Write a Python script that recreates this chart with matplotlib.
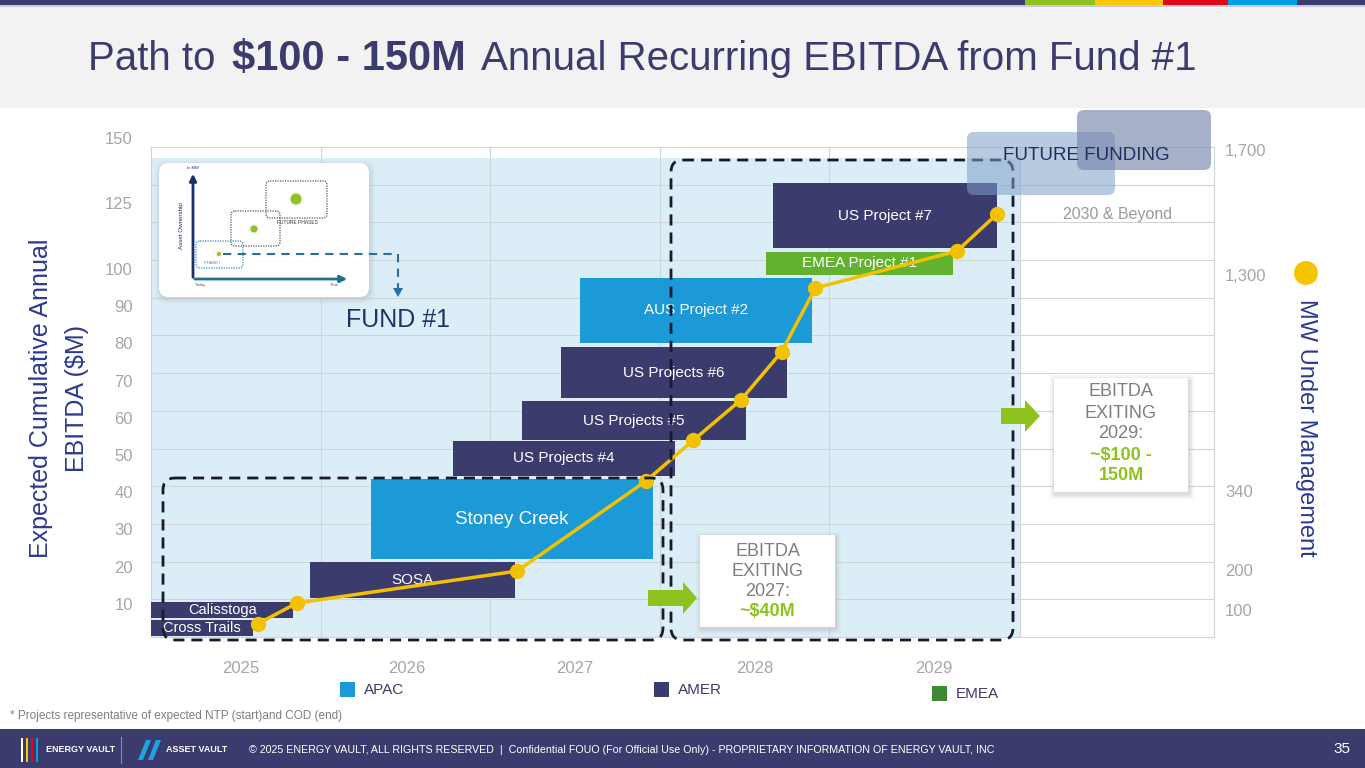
#Path to $100-150M EBITDA slide

import numpy as np
import matplotlib
matplotlib.use('Agg')
import matplotlib.pyplot as plt
from matplotlib.patches import Rectangle, FancyBboxPatch, Polygon, Circle

plt.rcParams['font.family'] = ['Liberation Sans', 'DejaVu Sans']

#project bars (NTP -> COD, in years) and their band on the EBITDA axis ($M)
projects = ['Cross Trails', 'Calisstoga', 'SOSA', 'Stoney Creek', 'US Projects #4',
            'US Projects #5', 'US Projects #6', 'AUS Project #2', 'EMEA Project #1', 'US Project #7']
regions = ['AMER', 'AMER', 'AMER', 'APAC', 'AMER', 'AMER', 'AMER', 'APAC', 'EMEA', 'AMER']
start = [2025.0, 2025.0, 2025.94, 2026.30, 2026.78, 2027.19, 2027.42, 2027.53, 2028.63, 2028.67]
end = [2025.60, 2025.84, 2027.15, 2027.96, 2028.09, 2028.51, 2028.75, 2028.90, 2029.65, 2029.88]
bar_lo = [1.3, 6.2, 11.6, 22.0, 44.4, 54.0, 65.3, 80.1, 98.4, 107.9]
bar_hi = [5.6, 10.5, 21.2, 43.5, 53.8, 64.5, 79.0, 97.6, 106.5, 132.7]

#cumulative EBITDA milestones
pt_x = [2025.63, 2025.86, 2027.16, 2027.92, 2028.20, 2028.48, 2028.72, 2028.92, 2029.67, 2029.88]
pt_y = [4.6, 10.2, 18.8, 43.0, 54.0, 64.8, 77.7, 94.9, 106.8, 120.9]

#axis labels
ebitda_ticks = [10, 20, 30, 40, 50, 60, 70, 80, 90, 100, 125, 150]
year_labels = ['2025', '2026', '2027', '2028', '2029']
year_pos = [2025.53, 2026.51, 2027.50, 2028.56, 2029.55]
mw_labels = ['100', '200', '340', '1,300', '1,700']
mw_pos = [8.3, 19.1, 40.3, 98.4, 145.4]

region_colors = {'APAC': '#1b9ad7', 'AMER': '#3c3b6e', 'EMEA': '#62b22f'}
navy = '#3c3b6e'
lbl_blue = '#2b3990'
gray = '#a6a6a6'
green = '#8dc21f'

#uneven axes used on the slide
yv = [-100, 0, 100, 125, 150, 400]
ys = [-100, 0, 100, 117.7, 135.2, 310.2]
def fwd_y(v):
    return np.interp(v, yv, ys)
def inv_y(s):
    return np.interp(s, ys, yv)

xk_yr = [2000, 2025, 2029, 2030, 2031, 2100]
xk_px = [151 - 25 * 169.5, 151, 829, 1020, 1214, 1214 + 69 * 194]
def fwd_x(v):
    return np.interp(v, xk_yr, xk_px)
def inv_x(p):
    return np.interp(p, xk_px, xk_yr)

fig = plt.figure(figsize=(13.65, 7.68), dpi=100)
W, H = 1365, 768

def px_axes(z):
    a = fig.add_axes([0, 0, 1, 1], zorder=z)
    a.set_xlim(0, W)
    a.set_ylim(H, 0)
    a.axis('off')
    a.patch.set_visible(False)
    return a

bg = px_axes(0)

#header and footer
bg.add_patch(Rectangle((0, 0), W, 108, color='#f2f2f2', lw=0))
bg.add_patch(Rectangle((0, 0), W, 5, color=navy, lw=0))
bg.add_patch(Rectangle((0, 5), W, 2, color='#c9c9e3', lw=0))
for x0, x1, c in [(1025, 1095, '#8dc21f'), (1095, 1163, '#ffc800'), (1163, 1228, '#e30613'), (1228, 1297, '#00a0e3')]:
    bg.add_patch(Rectangle((x0, 0), x1 - x0, 5, color=c, lw=0))
bg.add_patch(Rectangle((0, 729), W, 39, color=navy, lw=0))

#gantt background and grid
bg.add_patch(Rectangle((151, 158), 869, 479, color='#dbeef8', lw=0))
for gy in np.linspace(147, 637, 14):
    bg.plot([151, 1214], [gy, gy], color='#cfd6da', lw=0.8)
for gx in [151, 321, 490, 660, 829, 1020, 1214]:
    bg.plot([gx, gx], [147, 637], color='#cfd6da', lw=0.8)

#chart axes
ax = fig.add_axes([151 / W, (H - 637) / H, 1063 / W, 507 / H], zorder=1)
ax.patch.set_visible(False)
ax.set_xscale('function', functions=(fwd_x, inv_x))
ax.set_yscale('function', functions=(fwd_y, inv_y))
ax.set_xlim(2025, 2031)
ax.set_ylim(1.075, 153.1)
for s in ax.spines.values():
    s.set_visible(False)

for name, reg, s, e, lo, hi in zip(projects, regions, start, end, bar_lo, bar_hi):
    ax.barh(lo, e - s, height=hi - lo, left=s, align='edge', color=region_colors[reg], lw=0, zorder=2)
    xm = inv_x((fwd_x(s) + fwd_x(e)) / 2)
    ym = inv_y((fwd_y(lo) + fwd_y(hi)) / 2)
    fs = 11
    if name == 'Stoney Creek':
        fs = 13.5
    elif name in ('Cross Trails', 'Calisstoga'):
        fs = 10.5
    ax.text(xm, ym, name, color='white', fontsize=fs, ha='center', va='center', zorder=3)

ax.plot(pt_x, pt_y, color='#f2c200', lw=2.5, marker='o', ms=10, zorder=4)

ax.set_yticks(ebitda_ticks)
ax.set_yticklabels([str(t) for t in ebitda_ticks])
ax.set_xticks(year_pos)
ax.set_xticklabels(year_labels)
ax.tick_params(axis='y', length=0, pad=13, labelsize=12, labelcolor=gray)
ax.tick_params(axis='x', length=0, pad=17, labelsize=12, labelcolor=gray)
ax.minorticks_off()

ax2 = ax.twinx()
ax2.set_yscale('function', functions=(fwd_y, inv_y))
ax2.set_ylim(ax.get_ylim())
ax2.set_yticks(mw_pos)
ax2.set_yticklabels(mw_labels)
ax2.minorticks_off()
ax2.tick_params(axis='y', length=0, pad=8, labelsize=12, labelcolor=gray)
for s in ax2.spines.values():
    s.set_visible(False)

#overlay annotations
ov = px_axes(5)

#title
r = fig.canvas.get_renderer()
pieces = [('Path to', 29, 'normal'), ('$100 - 150M', 30, 'bold'), ('Annual Recurring EBITDA from Fund #1', 29, 'normal')]
tx = 88
for txt, fs, wt in pieces:
    t = ov.text(tx, 70, txt, fontsize=fs, color=navy, fontweight=wt, va='baseline', ha='left')
    bb = t.get_window_extent(renderer=r)
    tx += bb.width + 16

#axis titles
ov.text(59, 398, 'Expected Cumulative Annual\nEBITDA ($M)', rotation=90, fontsize=18, color=lbl_blue,
        ha='center', va='center', multialignment='center', linespacing=1.6)
ov.add_patch(Circle((1306, 273), 12, color='#f5c400', lw=0))
ov.text(1306, 428, 'MW Under Management', rotation=-90, fontsize=17, color=lbl_blue, ha='center', va='center')

#dashed fund boxes
for (x0, y0, x1, y1) in [(163, 478, 663, 640), (671, 160, 1013, 640)]:
    ov.add_patch(FancyBboxPatch((x0, y0), x1 - x0, y1 - y0, boxstyle='round,pad=0,rounding_size=12',
                                fill=False, ec='#1a1a2e', lw=2, ls=(0, (4, 2.5))))

#future funding
ov.add_patch(FancyBboxPatch((967, 132), 148, 63, boxstyle='round,pad=0,rounding_size=7',
                            fc='#7d9fc6', ec='none', alpha=0.55))
ov.add_patch(FancyBboxPatch((1077, 110), 134, 60, boxstyle='round,pad=0,rounding_size=7',
                            fc='#7886ad', ec='none', alpha=0.65))
ov.text(1086, 155, 'FUTURE FUNDING', fontsize=13.5, color='#1f2f5f', ha='center', va='center')
ov.text(1118, 214, '2030 & Beyond', fontsize=11.5, color='#9a9a9a', ha='center', va='center')
ov.text(398, 320, 'FUND #1', fontsize=18, color='#1f3366', ha='center', va='center')

#EBITDA call-out boxes
def callout(x0, y0, x1, y1, lines, cy0, step):
    for k, a in [(5, 0.12), (3, 0.18), (1.5, 0.25)]:
        ov.add_patch(FancyBboxPatch((x0 - k + 1, y0 - k + 2), x1 - x0 + 2 * k, y1 - y0 + 2 * k,
                                    boxstyle='round,pad=0,rounding_size=3', fc='#b8b8b8', ec='none', alpha=a))
    ov.add_patch(Rectangle((x0, y0), x1 - x0, y1 - y0, color='white', lw=0))
    for i, (txt, c, wt) in enumerate(lines):
        ov.text((x0 + x1) / 2, cy0 + i * step, txt, fontsize=13, color=c, fontweight=wt, ha='center', va='center')

callout(700, 535, 835, 627, [('EBITDA', '#7f7f7f', 'normal'), ('EXITING', '#7f7f7f', 'normal'),
                             ('2027:', '#7f7f7f', 'normal'), ('~$40M', green, 'bold')], 551, 20)
callout(1054, 378, 1188, 492, [('EBITDA', '#7f7f7f', 'normal'), ('EXITING', '#7f7f7f', 'normal'),
                               ('2029:', '#7f7f7f', 'normal'), ('~$100 -', green, 'bold'),
                               ('150M', green, 'bold')], 392, 21)

#green arrows
for (x0, xm, x1, yc) in [(648, 683, 697, 598), (1001, 1025, 1040, 416)]:
    ov.add_patch(Polygon([(x0, yc - 8), (xm, yc - 8), (xm, yc - 16), (x1, yc), (xm, yc + 16),
                          (xm, yc + 8), (x0, yc + 8)], closed=True, color=green, lw=0))

#inset diagram
for k, a in [(5, 0.12), (3, 0.18), (1.5, 0.25)]:
    ov.add_patch(FancyBboxPatch((159 - k + 1, 163 - k + 2), 210 + 2 * k, 134 + 2 * k,
                                boxstyle='round,pad=0,rounding_size=12', fc='#b8c0c8', ec='none', alpha=a))
ov.add_patch(FancyBboxPatch((159, 163), 210, 134, boxstyle='round,pad=0,rounding_size=10',
                            fc='white', ec='none'))
ov.annotate('', xy=(193, 171), xytext=(193, 280),
            arrowprops=dict(arrowstyle='-|>', color='#1c2f6e', lw=2, mutation_scale=10))
ov.annotate('', xy=(350, 279), xytext=(192, 279),
            arrowprops=dict(arrowstyle='-|>', color='#1f6f8f', lw=2, mutation_scale=10))
ov.text(181, 226, 'Asset Ownership', rotation=90, fontsize=4.5, color='#1c2f6e', ha='center', va='center')
ov.text(193, 168, 'In MW', fontsize=3, color='#1c2f6e', ha='center', va='center')
ov.text(200, 285, 'Today', fontsize=3, color='#555555', ha='center', va='center')
ov.text(334, 285, 'Time', fontsize=3, color='#555555', ha='center', va='center')
for (x0, y0, x1, y1, c) in [(196, 241, 243, 268, '#2a8ac0'), (231, 211, 280, 246, '#555555'),
                            (266, 181, 327, 218, '#555555')]:
    ov.add_patch(FancyBboxPatch((x0, y0), x1 - x0, y1 - y0, boxstyle='round,pad=0,rounding_size=4',
                                fill=False, ec=c, lw=0.9, ls=(0, (1, 1))))
for (cx, cy, rr) in [(219, 254, 2), (254, 229, 3.5), (296, 199, 5.5)]:
    ov.add_patch(Circle((cx, cy), rr + 2, color='#f4f4f4', lw=0))
    ov.add_patch(Circle((cx, cy), rr, color=green, lw=0))
ov.text(212, 263, 'PHASE I', fontsize=3, color='#2a8ac0', ha='center', va='center')
ov.text(297, 222, 'FUTURE PHASES', fontsize=3.5, color='#333333', ha='center', va='center')
ov.plot([223, 398, 398], [254, 254, 290], color='#2a6fa0', lw=1.5, ls=(0, (4, 3)))
ov.add_patch(Polygon([(393, 288), (403, 288), (398, 297)], closed=True, color='#2a6fa0', lw=0))

#legend
for (x0, y0, c, txt) in [(340, 682, '#1b9ad7', 'APAC'), (654, 682, navy, 'AMER'), (932, 686, '#3d8b31', 'EMEA')]:
    ov.add_patch(Rectangle((x0, y0), 15, 15, color=c, lw=0))
    ov.text(x0 + 24, y0 + 8, txt, fontsize=11, color=navy, ha='left', va='center')

#footnote and footer
ov.text(10, 716, '* Projects representative of expected NTP (start)and COD (end)', fontsize=8.5,
        color='#7f7f7f', ha='left', va='center')
ov.text(622, 750, '\u00a9 2025 ENERGY VAULT, ALL RIGHTS RESERVED  |  Confidential FOUO (For Official Use Only) - '
        'PROPRIETARY INFORMATION OF ENERGY VAULT, INC', fontsize=7.7, color='white', ha='center', va='center')
ov.text(1342, 749, '35', fontsize=11, color='white', ha='center', va='center')
for (x0, c) in [(21, 'white'), (26, '#ffc800'), (31, '#e30613'), (36, '#00a0e3')]:
    ov.add_patch(Rectangle((x0, 738), 2, 24, color=c, lw=0))
ov.text(46, 750, 'ENERGY VAULT', fontsize=6.5, color='white', fontweight='bold', ha='left', va='center')
ov.plot([121, 121], [737, 763], color='#8a8ab0', lw=0.8)
ov.add_patch(Polygon([(138, 760), (146, 740), (151, 740), (143, 760)], closed=True, color='#1fa3e0', lw=0))
ov.add_patch(Polygon([(148, 760), (156, 740), (161, 740), (153, 760)], closed=True, color='#1fa3e0', lw=0))
ov.text(166, 750, 'ASSET VAULT', fontsize=6.5, color='white', fontweight='bold', ha='left', va='center')

fig.savefig('out.png', dpi=100)
